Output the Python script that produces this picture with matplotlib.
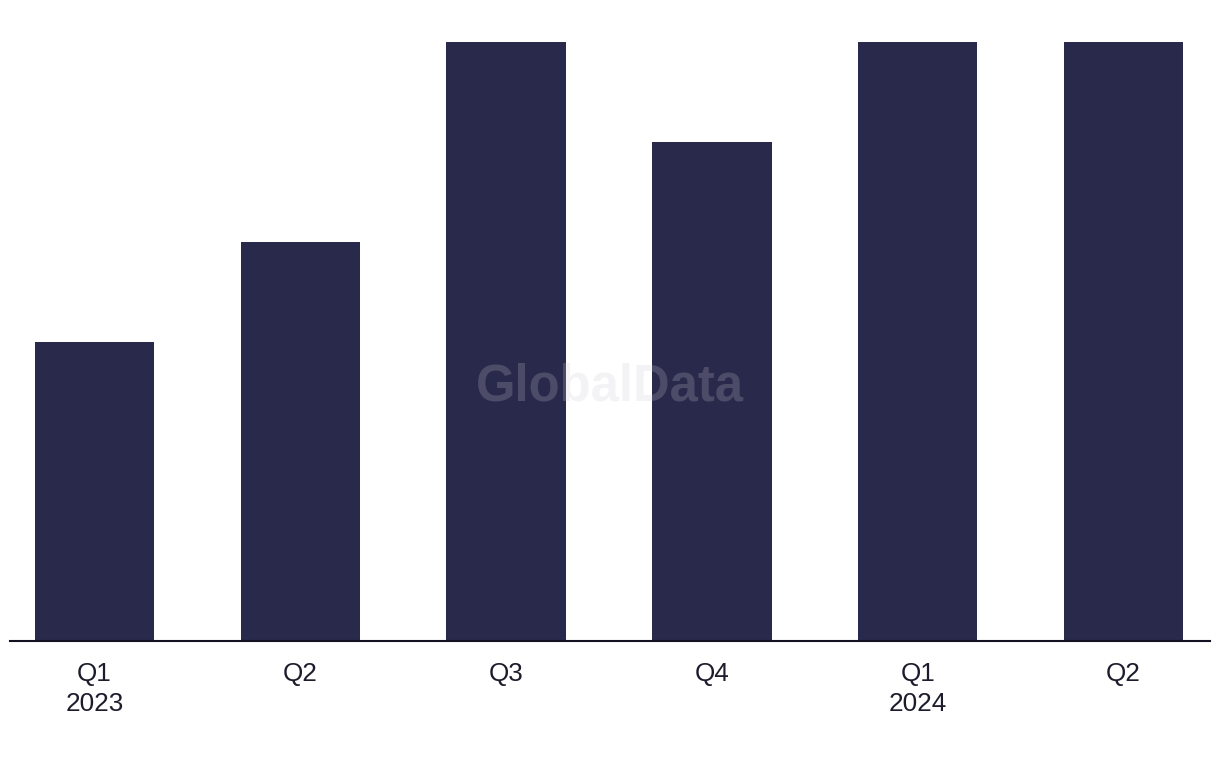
import matplotlib
matplotlib.use('Agg')
import matplotlib.pyplot as plt

# quarterly values
quarters = ['Q1\n2023', 'Q2', 'Q3', 'Q4', 'Q1\n2024', 'Q2']
values = [3, 4, 6, 5, 6, 6]

plt.rcParams['font.family'] = ['Liberation Sans', 'DejaVu Sans']

fig = plt.figure(figsize=(12.2, 7.68), dpi=100)
ax = fig.add_axes([10/1220, 1 - 641/768, 1200/1220, 599/768])

x = list(range(len(values)))
ax.bar(x, values, width=0.58, color='#29294b', zorder=2)

ax.set_xlim(-0.41, 5.42)
ax.set_ylim(0, 6)
ax.set_xticks(x)
ax.set_xticklabels(quarters, fontsize=18.8, color='#1c1c2c', linespacing=1.33)
ax.tick_params(axis='x', length=0, pad=15)
ax.set_yticks([])

for side in ['top', 'right', 'left']:
    ax.spines[side].set_visible(False)
ax.spines['bottom'].set_linewidth(1.5)
ax.spines['bottom'].set_color('#111122')

# watermark
fig.text(610/1220, 1 - 387/768, 'GlobalData', fontsize=36.5, fontweight='bold',
         color=(0.8, 0.8, 0.84), alpha=0.22, ha='center', va='center', zorder=5)

fig.savefig('out.png', dpi=100)
